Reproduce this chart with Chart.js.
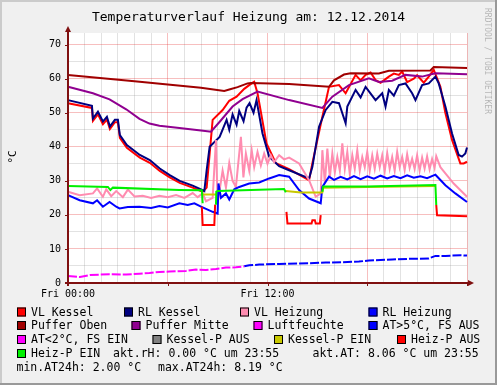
<!DOCTYPE html>
<html>
<head>
<meta charset="utf-8">
<script src="https://cdn.jsdelivr.net/npm/chart.js@4"></script>
<style>
  html, body { margin: 0; padding: 0; background: #f0f0f0; }
  canvas { display: block; }
</style>
</head>
<body>
<canvas id="chart" width="497" height="385"></canvas>
<script>
// ---- data (hours since Fri 00:00, values in °C) ----
const titleText = "Temperaturverlauf Heizung am: 12.12.2014";
const yAxisTitle = "°C";
const xTickHours = [0, 12];
const xTickLabels = ["Fri 00:00", "Fri 12:00"];

const seriesLabels = [
  "VL Kessel", "RL Kessel", "VL Heizung", "RL Heizung",
  "Puffer Oben", "Puffer Mitte", "Luftfeuchte", "AT>5°C, FS AUS",
  "AT<2°C, FS EIN", "Kessel-P AUS", "Kessel-P EIN", "Heiz-P AUS", "Heiz-P EIN",
];
const seriesColors = [
  "#ff0000", "#000080", "#ff8cb0", "#0000ff",
  "#a00000", "#900090", "#ff00ff", "#0000ff",
  "#ff00ff", "#808080", "#c8c800", "#ff0000", "#00f000",
];

const vlKesselT = [0, 1.44, 1.5, 1.8, 2.1, 2.34, 2.52, 2.82, 3.0, 3.12,
  3.54, 4.32, 4.92, 5.52, 6.12, 6.72, 7.5, 8.1, 8.34, 8.7,
  9.3, 9.7, 10.14, 10.6, 11.04, 11.2, 11.4, 11.94, 12.5, 13.3,
  14.5, 14.7, 15.3, 15.7, 16.3, 16.7, 17.3, 17.6, 17.9, 18.2,
  18.5, 18.8, 19.3, 19.6, 19.9, 20.1, 20.4, 20.8, 21.0, 21.4,
  21.7, 22.0, 22.4, 22.7, 23.1, 23.6, 23.8, 24];
const vlKesselV = [52.8, 51.4, 47.6, 49.5, 46.6, 48.0, 45.2, 47.2, 47.2, 42.6,
  39.7, 36.8, 35.3, 32.9, 31.0, 29.4, 28.0, 26.8, 28.0, 47.9,
  50.8, 53.5, 54.7, 57.0, 58.6, 59.1, 55.7, 41.0, 35.2, 33.4,
  30.2, 35.2, 48.8, 57.6, 58.1, 55.7, 61.1, 59.5, 61.1, 61.8,
  59.6, 58.8, 60.6, 61.5, 61.1, 62.1, 59.0, 60.0, 61.0, 58.8,
  60.6, 62.6, 57.6, 49.9, 42.0, 35.1, 35.1, 35.6];

const rlKesselT = [0, 1.44, 1.5, 1.8, 2.1, 2.34, 2.52, 2.82, 3.0, 3.12,
  3.54, 4.32, 4.92, 5.52, 6.12, 6.72, 7.5, 8.1, 8.2, 8.34,
  8.52, 9.12, 9.54, 9.7, 9.9, 10.14, 10.3, 10.56, 10.74, 10.92,
  11.16, 11.34, 11.7, 12.1, 12.7, 13.3, 14.5, 14.7, 15.1, 15.5,
  15.9, 16.3, 16.7, 16.8, 17.3, 17.6, 17.9, 18.5, 18.9, 19.1,
  19.3, 19.6, 19.9, 20.3, 20.7, 20.9, 21.3, 21.7, 22.1, 22.3,
  22.7, 23.1, 23.5, 23.7, 23.9, 24];
const rlKesselV = [53.7, 52.0, 48.3, 50.3, 47.4, 48.8, 45.9, 47.9, 47.9, 43.4,
  40.5, 37.6, 36.1, 33.6, 31.7, 30.0, 28.6, 27.3, 27.0, 33.1,
  40.0, 42.9, 47.9, 45.0, 49.5, 46.5, 50.5, 47.5, 51.5, 52.8,
  50.0, 53.7, 43.9, 37.1, 34.3, 33.1, 30.7, 34.1, 45.9, 50.8,
  53.2, 52.8, 46.9, 51.8, 56.7, 54.5, 57.6, 53.7, 55.7, 51.8,
  56.7, 55.0, 58.1, 58.6, 55.7, 53.7, 58.1, 58.6, 60.6, 58.6,
  51.8, 43.9, 37.6, 37.1, 38.0, 39.8];

const vlHeizungT = [0, 0.7, 1.5, 1.75, 2.1, 2.3, 2.6, 2.9, 3.3, 3.6,
  4.0, 4.5, 5.0, 5.5, 6.0, 6.5, 7.0, 7.5, 7.8, 8.1,
  8.3, 8.7, 8.9, 9.0, 9.3, 9.5, 9.7, 9.9, 10.1, 10.4,
  10.55, 10.7, 10.9, 11.05, 11.2, 11.4, 11.6, 11.8, 12.0, 12.2,
  12.4, 12.7, 13.0, 13.3, 13.9, 14.5, 14.9, 15.2, 15.3, 15.45,
  15.6, 15.75, 15.9, 16.05, 16.2, 16.35, 16.5, 16.65, 16.8, 16.95,
  17.1, 17.25, 17.4, 17.55, 17.7, 17.85, 18.0, 18.15, 18.3, 18.45,
  18.6, 18.75, 18.9, 19.05, 19.2, 19.35, 19.5, 19.65, 19.8, 19.95,
  20.1, 20.25, 20.4, 20.55, 20.7, 20.85, 21.0, 21.15, 21.3, 21.45,
  21.6, 21.75, 21.9, 22.05, 22.15, 22.4, 22.7, 23.2, 24];
const vlHeizungV = [26.8, 25.8, 26.3, 27.8, 25.3, 27.5, 25.5, 27.0, 25.2, 27.4,
  25.4, 25.6, 25.0, 25.6, 25.2, 25.8, 25.0, 26.4, 25.2, 26.3,
  24.0, 25.0, 42.0, 23.4, 33.0, 28.0, 35.2, 30.0, 28.2, 42.9,
  31.0, 38.0, 33.0, 39.0, 34.0, 38.5, 34.5, 38.0, 35.0, 37.5,
  35.5, 37.5, 36.3, 36.8, 35.1, 30.2, 25.3, 26.3, 39.0, 29.2,
  39.5, 31.0, 38.0, 32.5, 37.0, 33.0, 41.0, 33.5, 38.5, 32.0,
  37.5, 33.5, 39.0, 33.0, 37.0, 34.0, 38.5, 33.0, 37.5, 33.5,
  38.0, 34.0, 37.5, 32.8, 38.2, 33.5, 37.0, 33.0, 38.5, 34.0,
  37.0, 33.2, 37.8, 33.8, 36.5, 33.5, 37.5, 33.0, 36.8, 33.6,
  37.2, 33.4, 36.4, 33.8, 37.2, 34.0, 32.2, 29.2, 25.3];

const rlHeizungT = [0, 0.7, 1.5, 1.75, 2.1, 2.5, 2.9, 3.1, 3.6, 4.3,
  5.0, 5.5, 6.0, 6.7, 7.2, 7.6, 8.0, 8.7, 9.0, 9.05,
  9.2, 9.5, 9.7, 10.0, 10.3, 10.9, 11.5, 12.1, 12.7, 13.3,
  13.9, 14.5, 15.2, 15.3, 15.7, 16.0, 16.4, 16.8, 17.2, 17.6,
  18.0, 18.4, 18.8, 19.2, 19.6, 20.0, 20.4, 20.8, 21.2, 21.6,
  22.1, 22.7, 23.3, 24];
const rlHeizungV = [25.8, 24.3, 23.4, 24.3, 22.4, 23.8, 22.4, 21.9, 22.3, 22.4,
  22.0, 22.6, 22.2, 23.4, 22.9, 23.4, 22.4, 20.9, 20.4, 29.2,
  25.0, 26.3, 24.5, 27.5, 28.2, 29.2, 29.5, 30.7, 31.7, 31.2,
  27.3, 24.8, 23.4, 28.2, 31.2, 30.3, 31.2, 30.4, 31.4, 30.5,
  31.3, 30.6, 31.5, 30.7, 31.4, 30.8, 31.6, 30.9, 31.3, 30.8,
  31.8, 28.7, 26.3, 23.8];

const pufferObenT = [0, 4, 8, 9.4, 9.7, 10.2, 10.8, 11.0, 13.3, 15.7,
  16.0, 16.6, 17.0, 18.7, 19.3, 21.8, 22.0, 24];
const pufferObenV = [61.1, 59.2, 57.3, 56.4, 56.8, 57.5, 58.6, 58.7, 58.4, 57.6,
  59.5, 61.2, 61.6, 61.5, 62.3, 62.4, 63.4, 63.1];

const pufferMitteT = [0, 1.5, 2.5, 3.5, 4.3, 4.9, 5.5, 6.7, 8.0, 8.6,
  9.1, 9.9, 10.5, 11.4, 13.3, 15.3, 15.9, 16.9, 18.1, 18.7,
  19.5, 20.3, 21.3, 22.1, 24];
const pufferMitteV = [57.6, 55.7, 53.9, 51.0, 48.2, 46.8, 46.2, 45.5, 44.8, 44.4,
  47.2, 51.8, 54.0, 56.2, 53.7, 51.4, 54.7, 58.1, 60.1, 59.0,
  59.4, 61.1, 60.6, 61.6, 61.3];

const luftfeuchteT = [0, 24];
const luftfeuchteV = [0, 0];

const atHighT = [10.6, 10.9, 11.5, 12.7, 13.9, 14.5, 15.5, 16.5, 17.5, 18.1,
  19.5, 20.5, 21.7, 22.1, 22.7, 23.6, 24];
const atHighV = [4.9, 5.2, 5.4, 5.6, 5.7, 5.8, 6.0, 6.1, 6.3, 6.6,
  6.9, 7.1, 7.2, 7.95, 7.95, 8.15, 8.06];

const atLowT = [0, 0.72, 1.32, 2.5, 3.5, 4.3, 4.9, 5.5, 6.1, 7.1,
  7.7, 8.3, 8.9, 9.5, 10.1, 10.6];
const atLowV = [2.06, 1.76, 2.35, 2.56, 2.46, 2.75, 2.95, 3.25, 3.35, 3.55,
  3.93, 3.84, 4.13, 4.52, 4.6, 4.9];

const kesselPAusT = [];
const kesselPAusV = [];

const kesselPEinT = [8.05, 8.9, 8.91, 13.1, 14.0, 15.3, 15.35, 18.0, 22.1, 22.11];
const kesselPEinV = [26.0, 26.0, null, 27.0, 26.6, 26.6, 28.0, 28.2, 28.5, null];

const heizPAusT = [8.05, 8.1, 8.8, 8.85, 8.86, 13.14, 13.2, 14.65, 14.7, 14.85,
  14.9, 15.15, 15.2, 15.21, 22.15, 22.2, 24];
const heizPAusV = [22.4, 17.0, 17.0, 23.0, null, 20.9, 17.5, 17.5, 18.4, 18.4,
  17.5, 17.5, 19.9, null, 22.9, 19.9, 19.6];

const heizPEinT = [0, 2.4, 2.55, 2.7, 6.7, 8.05, 8.1, 8.11, 8.9, 8.92,
  9.0, 13.0, 13.1, 13.12, 15.3, 15.35, 18.0, 22.1, 22.15, 22.16];
const heizPEinV = [28.5, 28.2, 27.3, 28.0, 27.3, 27.2, 23.4, null, 23.0, 26.8,
  27.0, 27.6, 26.6, null, 26.8, 28.3, 28.3, 28.8, 22.9, null];

const seriesTimes = [vlKesselT, rlKesselT, vlHeizungT, rlHeizungT, pufferObenT,
  pufferMitteT, luftfeuchteT, atHighT, atLowT, kesselPAusT, kesselPEinT, heizPAusT, heizPEinT];
const seriesValues = [vlKesselV, rlKesselV, vlHeizungV, rlHeizungV, pufferObenV,
  pufferMitteV, luftfeuchteV, atHighV, atLowV, kesselPAusV, kesselPEinV, heizPAusV, heizPEinV];

// extra legend lines (GPRINT style)
const legendNotes = [
  { text: "akt.rH: 0.00 °C um 23:55", x: 113, row: 3 },
  { text: "akt.AT: 8.06 °C um 23:55", x: 312.5, row: 3 },
  { text: "min.AT24h: 2.00 °C", x: 16.5, row: 4 },
  { text: "max.AT24h: 8.19 °C", x: 158, row: 4 },
];
// legend box positions (left of box, row)
const legendBoxes = [
  [17, 0], [124, 0], [240, 0], [368.5, 0],
  [17, 1], [131.5, 1], [253.5, 1], [368.5, 1],
  [17, 2], [152.5, 2], [274, 2], [397, 2],
  [17, 3],
];
const legendRowBase = [315.5, 329, 343, 357, 371];

const axisColor = "#7f1010";
const majorGrid = "rgba(230,60,60,0.33)";
const minorGrid = "rgba(140,140,140,0.25)";
const mono = '"DejaVu Sans Mono", monospace';

function points(ts, vs) {
  return ts.map((t, i) => ({ x: t, y: vs[i] }));
}

const datasets = seriesLabels.map((label, i) => ({
  label: label,
  data: points(seriesTimes[i], seriesValues[i]),
  borderColor: seriesColors[i],
  backgroundColor: seriesColors[i],
  borderWidth: 2,
  pointRadius: 0,
  tension: 0,
  spanGaps: false,
  clip: 3,
  order: -i, // later series on top, like rrdtool
  borderDash: (i === 7 || i === 8) ? [9, 2] : [],
}));

const decor = {
  id: "decor",
  beforeDraw(chart) {
    const { ctx, chartArea: a, width, height } = chart;
    ctx.save();
    ctx.fillStyle = "#f0f0f0";
    ctx.fillRect(0, 0, width, height);
    ctx.fillStyle = "#cbcbcb";
    ctx.fillRect(0, 0, width, 2);
    ctx.fillRect(0, 0, 2, height);
    ctx.fillStyle = "#999999";
    ctx.fillRect(0, height - 2, width, 2);
    ctx.fillRect(width - 2, 0, 2, height);
    ctx.fillStyle = "#ffffff";
    ctx.fillRect(a.left, a.top, a.right - a.left, a.bottom - a.top);
    ctx.restore();
  },
  afterDatasetsDraw(chart) {
    const { ctx, chartArea: a, scales } = chart;
    const y0 = scales.y.getPixelForValue(0);
    ctx.save();
    ctx.strokeStyle = axisColor;
    ctx.fillStyle = axisColor;
    ctx.lineWidth = 1;
    // small ticks at major grid
    ctx.beginPath();
    for (let v = 0; v <= 70; v += 10) {
      const py = Math.round(scales.y.getPixelForValue(v)) + 0.5;
      ctx.moveTo(a.left - 3, py);
      ctx.lineTo(a.left, py);
    }
    for (let h = 0; h <= 24; h += 6) {
      const px = Math.round(scales.x.getPixelForValue(h)) + 0.5;
      ctx.moveTo(px, y0);
      ctx.lineTo(px, y0 + 3);
    }
    ctx.stroke();
    // axes
    ctx.lineWidth = 2;
    ctx.beginPath();
    ctx.moveTo(a.left, y0 + 3);
    ctx.lineTo(a.left, a.top - 3);
    ctx.moveTo(a.left - 3, y0);
    ctx.lineTo(a.right + 2, y0);
    ctx.stroke();
    // arrows
    ctx.beginPath();
    ctx.moveTo(a.left, a.top - 7);
    ctx.lineTo(a.left - 3, a.top - 1);
    ctx.lineTo(a.left + 3, a.top - 1);
    ctx.closePath();
    ctx.fill();
    ctx.beginPath();
    ctx.moveTo(a.right + 7, y0);
    ctx.lineTo(a.right + 1, y0 - 3);
    ctx.lineTo(a.right + 1, y0 + 3);
    ctx.closePath();
    ctx.fill();
    ctx.restore();
  },
  afterDraw(chart) {
    const { ctx, width } = chart;
    ctx.save();
    ctx.fillStyle = "#000";
    // title
    ctx.font = "13px " + mono;
    ctx.textAlign = "center";
    ctx.textBaseline = "alphabetic";
    ctx.fillText(titleText, width / 2, 21);
    // y axis title
    ctx.save();
    ctx.font = "11px " + mono;
    ctx.translate(13, 157);
    ctx.rotate(-Math.PI / 2);
    ctx.textBaseline = "middle";
    ctx.fillText(yAxisTitle, 0, 0);
    ctx.restore();
    // watermark
    ctx.save();
    ctx.fillStyle = "rgba(0,0,0,0.25)";
    ctx.font = "8px " + mono;
    ctx.translate(487, 8);
    ctx.rotate(Math.PI / 2);
    ctx.textAlign = "left";
    ctx.textBaseline = "middle";
    ctx.fillText("RRDTOOL / TOBI OETIKER", 0, 0);
    ctx.restore();
    // legend
    ctx.font = "11.5px " + mono;
    ctx.textAlign = "left";
    ctx.textBaseline = "alphabetic";
    seriesLabels.forEach((label, i) => {
      const [bx, row] = legendBoxes[i];
      const base = legendRowBase[row];
      ctx.fillStyle = seriesColors[i];
      ctx.fillRect(bx, base - 8, 9, 9);
      ctx.strokeStyle = "#000";
      ctx.lineWidth = 1;
      ctx.strokeRect(bx + 0.5, base - 7.5, 8, 8);
      ctx.fillStyle = "#000";
      ctx.fillText(label, bx + 14, base);
    });
    legendNotes.forEach((n) => {
      ctx.fillText(n.text, n.x, legendRowBase[n.row]);
    });
    ctx.restore();
  },
};

const tickFont = { family: "DejaVu Sans Mono", size: 10 };

new Chart(document.getElementById("chart").getContext("2d"), {
  type: "line",
  data: { datasets: datasets },
  options: {
    responsive: false,
    animation: false,
    events: [],
    layout: { padding: { left: 0, top: 33, right: 30, bottom: 0 } },
    plugins: {
      legend: { display: false },
      title: { display: false },
      tooltip: { enabled: false },
    },
    scales: {
      x: {
        type: "linear",
        min: 0,
        max: 24,
        afterFit: (s) => { s.height = 102; },
        border: { display: false },
        grid: {
          drawTicks: false,
          color: (c) => (c.tick.value % 6 === 0 ? majorGrid : minorGrid),
        },
        ticks: {
          stepSize: 1,
          autoSkip: false,
          maxRotation: 0,
          padding: 5,
          color: "#000",
          font: tickFont,
          callback: (v) => xTickLabels[xTickHours.indexOf(v)] ?? "",
        },
      },
      y: {
        min: 0,
        max: 73.4,
        afterFit: (s) => { s.width = 68; },
        border: { display: false },
        grid: {
          drawTicks: false,
          color: (c) => {
            const v = c.tick.value;
            if (v % 10 === 0) return majorGrid;
            if (v % 5 === 0) return minorGrid;
            return "rgba(0,0,0,0)";
          },
        },
        ticks: {
          stepSize: 5,
          padding: 7,
          color: "#000",
          font: tickFont,
          callback: (v) => (v % 10 === 0 ? String(v) : ""),
        },
      },
    },
  },
  plugins: [decor],
});
</script>
</body>
</html>
